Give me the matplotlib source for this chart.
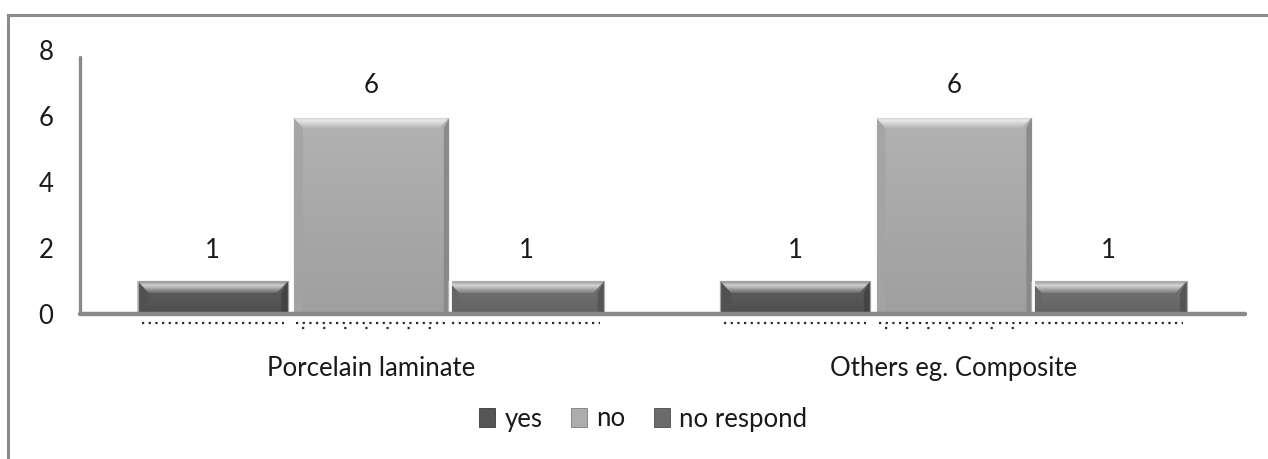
import numpy as np
import matplotlib
matplotlib.use("Agg")
import matplotlib.pyplot as plt
from matplotlib.patches import Polygon, Rectangle
from matplotlib.lines import Line2D
from matplotlib.colors import to_rgb

categories = ["Porcelain laminate", "Others eg. Composite"]
series_names = ["yes", "no", "no respond"]
yes_values = [1, 1]
no_values = [6, 6]
no_respond_values = [1, 1]
y_ticks = [0, 2, 4, 6, 8]

series_values = [yes_values, no_values, no_respond_values]
base_colors = ["#555555", "#adadad", "#6b6b6b"]
offsets = [-0.272, 0.0, 0.266]
widths = [0.258, 0.272, 0.268]

plt.rcParams["font.family"] = ["Lato", "DejaVu Sans"]
FS = 18.5

W, H = 1268, 459
fig = plt.figure(figsize=(W / 100, H / 100), dpi=100)
ax_left, ax_right = 80 / W, 1245 / W
ax_bottom, ax_top = 1 - 314 / H, 1 - 50 / H
ax = fig.add_axes([ax_left, ax_bottom, ax_right - ax_left, ax_top - ax_bottom])
ax.set_xlim(-0.5, 1.5)
ax.set_ylim(0, 8)

# pixel -> data scale factors for bevel geometry
px_x = 2.0 / (W * (ax_right - ax_left))
px_y = 8.0 / (H * (ax_top - ax_bottom))


def shade(color, f):
    r, g, b = to_rgb(color)
    if f >= 0:
        return (r + (1 - r) * f, g + (1 - g) * f, b + (1 - b) * f)
    return (r * (1 + f), g * (1 + f), b * (1 + f))


def bevel_bar(ax, xc, width, height, color, white_edge=False):
    x0, x1 = xc - width / 2, xc + width / 2
    dx, dy = 11 * px_x, 12 * px_y
    dy = min(dy, height * 0.45)
    # face with a gentle vertical gradient
    grad = np.linspace(0, 1, 64).reshape(-1, 1)
    top_c = np.array(shade(color, 0.06))
    bot_c = np.array(shade(color, -0.08))
    img = top_c * (1 - grad[..., None]) + bot_c * grad[..., None]
    img = np.repeat(img, 4, axis=1)
    face = Rectangle((x0, 0), width, height, facecolor="none", edgecolor="none")
    ax.add_patch(face)
    im = ax.imshow(img, extent=(x0, x1, 0, height), aspect="auto",
                   origin="upper", zorder=2, interpolation="bilinear")
    im.set_clip_path(face)
    # side bevels
    ax.add_patch(Polygon([(x0, 0), (x0, height), (x0 + dx, height - dy), (x0 + dx, 0)],
                         closed=True, facecolor=shade(color, -0.05), edgecolor="none",
                         zorder=2.1, alpha=0.9))
    ax.add_patch(Polygon([(x1, 0), (x1, height), (x1 - dx * 0.6, height - dy), (x1 - dx * 0.6, 0)],
                         closed=True, facecolor=shade(color, -0.22), edgecolor="none",
                         zorder=2.1, alpha=0.9))
    # top bevel (lighter gradient)
    top = Polygon([(x0, height), (x1, height), (x1 - dx, height - dy), (x0 + dx, height - dy)],
                  closed=True, facecolor="none", edgecolor="none")
    ax.add_patch(top)
    g2 = np.linspace(0, 1, 32).reshape(-1, 1)
    c_a = np.array(shade(color, 0.30))
    c_b = np.array(shade(color, 0.72))
    c_c = np.array(shade(color, 0.12))
    t = g2[..., None]
    img2 = np.where(t < 0.35, c_a * (1 - t / 0.35) + c_b * (t / 0.35),
                    c_b * (1 - (t - 0.35) / 0.65) + c_c * ((t - 0.35) / 0.65))
    img2 = np.repeat(img2, 4, axis=1)
    im2 = ax.imshow(img2, extent=(x0, x1, height - dy, height), aspect="auto",
                    origin="upper", zorder=2.2, interpolation="bilinear")
    im2.set_clip_path(top)
    # outline
    ax.add_patch(Rectangle((x0, 0), width, height, facecolor="none",
                           edgecolor="white" if white_edge else shade(color, 0.45),
                           linewidth=2.0 if white_edge else 0.9, zorder=2.3))


x = np.arange(len(categories))
order = [0, 2, 1]  # middle series painted last so its white rim overlaps neighbours
for si in order:
    vals, col, off, w = series_values[si], base_colors[si], offsets[si], widths[si]
    for i, v in enumerate(vals):
        xc = x[i] + off
        bevel_bar(ax, xc, w, v, col, white_edge=(si == 1))
        ax.text(xc, v + 18 * px_y, str(v), ha="center", va="bottom",
                fontsize=FS, color="#1a1a1a", zorder=4)
        # dotted shadow strip under each bar
        x0, x1 = xc - w / 2 + 4 * px_x, xc + w / 2 - 4 * px_x
        ax.plot([x0, x1], [-9 * px_y, -9 * px_y], color="#2a2a2a", lw=1.6,
                linestyle=(0, (1, 2.0)), clip_on=False, zorder=1)
        if si == 1:
            ax.plot([x0 + 6 * px_x, x1], [-14 * px_y, -14 * px_y], color="#2a2a2a", lw=1.6,
                    linestyle=(0, (1, 8.5)), clip_on=False, zorder=1)

ax.set_xlim(-0.5, 1.5)
ax.set_ylim(0, 8)
ax.set_yticks(y_ticks)
ax.set_xticks(x)
ax.set_xticklabels(categories)
ax.tick_params(axis="y", length=0, pad=19, labelsize=FS, labelcolor="#1a1a1a")
ax.tick_params(axis="x", length=0, pad=30, labelsize=FS, labelcolor="#1a1a1a")

for s in ["top", "right"]:
    ax.spines[s].set_visible(False)
ax.spines["left"].set_bounds(0, 7.8)
ax.spines["left"].set_color("#8a8a8a")
ax.spines["left"].set_linewidth(2.4)
ax.spines["bottom"].set_color("#8a8a8a")
ax.spines["bottom"].set_linewidth(3.2)
ax.spines["left"].set_zorder(3)
ax.spines["bottom"].set_zorder(3)
ax.spines["left"].set_capstyle("round")
ax.spines["bottom"].set_capstyle("round")

# chart-area border (left and top)
fig.add_artist(Line2D([8 / W, 8 / W], [0, 1 - 15 / H], transform=fig.transFigure,
                      color="#8a8a8a", lw=2.2))
fig.add_artist(Line2D([8 / W, 1.0], [1 - 15 / H, 1 - 15 / H], transform=fig.transFigure,
                      color="#8a8a8a", lw=2.2))

handles = [Rectangle((0, 0), 1, 1, facecolor=c, edgecolor=shade(c, -0.3), lw=0.6)
           for c in base_colors]
fig.legend(handles, series_names, loc="center", bbox_to_anchor=(643 / W, 1 - 419 / H),
           ncol=3, frameon=False, fontsize=FS, handlelength=0.65, handleheight=0.75,
           handletextpad=0.35, columnspacing=1.1, labelcolor="#1a1a1a")

fig.savefig("out.png", dpi=100, facecolor="white")
